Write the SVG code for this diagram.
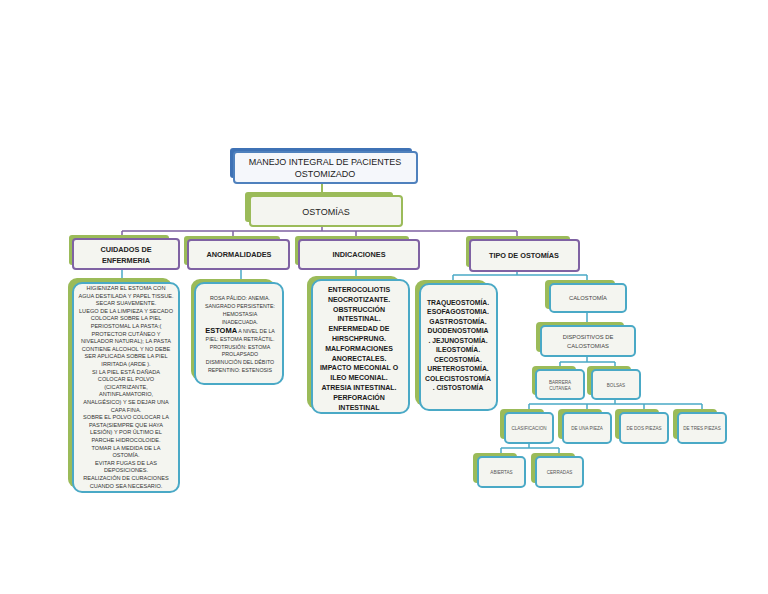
<svg xmlns="http://www.w3.org/2000/svg" width="768" height="594" viewBox="0 0 768 594">
<style>
.sg{fill:#9bbb59}
.sb{fill:#3f72b5}
.pb{fill:#f4f5f0;stroke:#7f62a3;stroke-width:2}
.tb{fill:#f4f5f0;stroke:#4aa9c6;stroke-width:2}
.bb{fill:#f5f7fb;stroke:#4f81bd;stroke-width:2}
.gb{fill:#f4f5f0;stroke:#9bbb59;stroke-width:2}
.cp{stroke:#7f62a3;stroke-width:1.5;fill:none}
.ct{stroke:#4aa9c6;stroke-width:1.5;fill:none}
.cg{stroke:#9bbb59;stroke-width:2;fill:none}
text{font-family:"Liberation Sans",Arial,sans-serif;text-anchor:middle;fill:#222}
.h1{font-size:9px}
.h2{font-size:7.3px;font-weight:bold}
.s1{font-size:5.6px;fill:#333}
.s2{font-size:5.3px;fill:#333}
.b1{font-size:7px;font-weight:bold;fill:#1a1a1a}
.b2{font-size:6.8px;font-weight:bold;fill:#1a1a1a}
.m{font-size:5.8px;fill:#444}
.sm{font-size:4.6px;fill:#555}
</style>

<g id="connectors">
<path class="cg" d="M322 183V196"/>
<path class="cp" d="M322 226V231M122 231H517M122 231V240M233 231V240M356 231V240M517 231V240"/>
<path class="ct" d="M122 269V283M241 269V283M356 269V281"/>
<path class="ct" d="M517 271V275M453 275H587M453 275V284M587 275V284"/>
<path class="ct" d="M587 312V326M587 356V362M560 362H615M560 362V370M615 362V370"/>
<path class="ct" d="M615 399V404M529 404H702M529 404V413M587 404V413M644 404V413M702 404V413"/>
<path class="ct" d="M529 443V448M501 448H559M501 448V457M559 448V457"/>
</g>

<g id="title">
<rect class="sb" x="230" y="148" width="182" height="30" rx="3"/>
<rect class="bb" x="234" y="152" width="183" height="31" rx="3"/>
<text class="h1" x="325" y="164.5">MANEJO INTEGRAL DE PACIENTES</text>
<text class="h1" x="325" y="176.5">OSTOMIZADO</text>
</g>

<g id="ostomias">
<rect class="sg" x="245" y="192" width="148" height="30" rx="3"/>
<rect class="gb" x="250" y="196" width="152" height="30" rx="3"/>
<text class="h1" x="326" y="214.5">OSTOMÍAS</text>
</g>

<g id="cuidados">
<rect class="sg" x="69" y="235" width="100" height="30" rx="3"/>
<rect class="pb" x="73" y="239" width="106" height="30" rx="3"/>
<text class="h2" x="126" y="251.5">CUIDADOS DE</text>
<text class="h2" x="126" y="262.5">ENFERMERIA</text>
</g>

<g id="anormalidades">
<rect class="sg" x="184" y="236" width="96" height="29" rx="3"/>
<rect class="pb" x="188" y="240" width="101" height="29" rx="3"/>
<text class="h2" x="239" y="257">ANORMALIDADES</text>
</g>

<g id="indicaciones">
<rect class="sg" x="295" y="236" width="114" height="29" rx="3"/>
<rect class="pb" x="299" y="240" width="120" height="29" rx="3"/>
<text class="h2" x="359" y="257">INDICACIONES</text>
</g>

<g id="tipo">
<rect class="sg" x="466" y="236" width="104" height="31" rx="3"/>
<rect class="pb" x="470" y="240" width="109" height="31" rx="3"/>
<text class="h2" x="524" y="258">TIPO DE  OSTOMÍAS</text>
</g>

<g id="cuidados-detalle">
<rect class="sg" x="68" y="278" width="104" height="210" rx="9"/>
<rect class="tb" x="73" y="283" width="106" height="209" rx="9"/>
<text class="s1" x="126" y="290">HIGIENIZAR EL ESTOMA CON</text>
<text class="s1" x="126" y="297.6">AGUA DESTILADA Y PAPEL TISSUE.</text>
<text class="s1" x="126" y="305.2">SECAR SUAVEMENTE.</text>
<text class="s1" x="126" y="312.8">LUEGO DE LA LIMPIEZA Y SECADO</text>
<text class="s1" x="126" y="320.4">COLOCAR SOBRE LA PIEL</text>
<text class="s1" x="126" y="328">PERIOSTOMAL LA PASTA:(</text>
<text class="s1" x="126" y="335.6">PROTECTOR CUTÁNEO Y</text>
<text class="s1" x="126" y="343.2">NIVELADOR NATURAL); LA PASTA</text>
<text class="s1" x="126" y="350.8">CONTIENE ALCOHOL Y NO DEBE</text>
<text class="s1" x="126" y="358.4">SER APLICADA SOBRE LA PIEL</text>
<text class="s1" x="126" y="366">IRRITADA (ARDE ).</text>
<text class="s1" x="126" y="373.6">SI LA PIEL ESTÁ DAÑADA</text>
<text class="s1" x="126" y="381.2">COLOCAR EL POLVO</text>
<text class="s1" x="126" y="388.8">(CICATRIZANTE,</text>
<text class="s1" x="126" y="396.4">ANTINFLAMATORIO,</text>
<text class="s1" x="126" y="404">ANALGÉSICO) Y SE DEJAR UNA</text>
<text class="s1" x="126" y="411.6">CAPA FINA.</text>
<text class="s1" x="126" y="419.2">SOBRE EL POLVO COLOCAR LA</text>
<text class="s1" x="126" y="426.8">PASTA(SIEMPRE QUE HAYA</text>
<text class="s1" x="126" y="434.4">LESIÓN) Y POR ÚLTIMO EL</text>
<text class="s1" x="126" y="442">PARCHE HIDROCOLOIDE.</text>
<text class="s1" x="126" y="449.6">TOMAR LA MEDIDA DE LA</text>
<text class="s1" x="126" y="457.2">OSTOMÍA.</text>
<text class="s1" x="126" y="464.8">EVITAR FUGAS DE LAS</text>
<text class="s1" x="126" y="472.4">DEPOSICIONES.</text>
<text class="s1" x="126" y="480">REALIZACIÓN DE CURACIONES</text>
<text class="s1" x="126" y="487.6">CUANDO SEA NECESARIO.</text>
</g>

<g id="anormalidades-detalle">
<rect class="sg" x="191" y="279" width="84" height="101" rx="9"/>
<rect class="tb" x="195" y="283" width="88" height="101" rx="9"/>
<text class="s2" x="240" y="299.5">ROSA PÁLIDO: ANEMIA.</text>
<text class="s2" x="240" y="307.5">SANGRADO PERSISTENTE:</text>
<text class="s2" x="240" y="315.5">HEMOSTASIA</text>
<text class="s2" x="240" y="323.5">INADECUADA.</text>
<text class="s2" x="240" y="333"><tspan style="font-size:7.5px;font-weight:bold;fill:#111">ESTOMA</tspan> A NIVEL DE LA</text>
<text class="s2" x="240" y="341">PIEL: ESTOMA RETRÁCTIL.</text>
<text class="s2" x="240" y="348.5">PROTRUSIÓN: ESTOMA</text>
<text class="s2" x="240" y="356">PROLAPSADO</text>
<text class="s2" x="240" y="364">DISMINUCIÓN DEL DÉBITO</text>
<text class="s2" x="240" y="372">REPENTINO: ESTENOSIS</text>
</g>

<g id="indicaciones-detalle">
<rect class="sg" x="307" y="276" width="93" height="133" rx="9"/>
<rect class="tb" x="312" y="280" width="97" height="133" rx="9"/>
<text class="b1" x="359" y="292">ENTEROCOLIOTIS</text>
<text class="b1" x="359" y="301.8">NEOCROTIZANTE.</text>
<text class="b1" x="359" y="311.6">OBSTRUCCIÓN</text>
<text class="b1" x="359" y="321.4">INTESTINAL.</text>
<text class="b1" x="359" y="331.2">ENFERMEDAD DE</text>
<text class="b1" x="359" y="341">HIRSCHPRUNG.</text>
<text class="b1" x="359" y="350.8">MALFORMACIONES</text>
<text class="b1" x="359" y="360.6">ANORECTALES.</text>
<text class="b1" x="359" y="370.4">IMPACTO MECONIAL O</text>
<text class="b1" x="359" y="380.2">ILEO MECONIAL.</text>
<text class="b1" x="359" y="390">ATRESIA INTESTINAL.</text>
<text class="b1" x="359" y="399.8">PERFORACIÓN</text>
<text class="b1" x="359" y="409.6">INTESTINAL</text>
</g>

<g id="tipos-lista">
<rect class="sg" x="415" y="280" width="73" height="126" rx="9"/>
<rect class="tb" x="420" y="284" width="77" height="126" rx="9"/>
<text class="b2" x="458" y="304.5">TRAQUEOSTOMÍA.</text>
<text class="b2" x="458" y="314">ESOFAGOSTOMIA.</text>
<text class="b2" x="458" y="323.5">GASTROSTOMÍA.</text>
<text class="b2" x="458" y="333">DUODENOSTOMIA</text>
<text class="b2" x="458" y="342.5">. JEJUNOSTOMÍA.</text>
<text class="b2" x="458" y="352">ILEOSTOMÍA.</text>
<text class="b2" x="458" y="361.5">CECOSTOMÍA.</text>
<text class="b2" x="458" y="371">URETEROSTOMÍA.</text>
<text class="b2" x="458" y="380.5">COLECISTOSTOMÍA</text>
<text class="b2" x="458" y="390">. CISTOSTOMÍA</text>
</g>

<g id="calostomia">
<rect class="sg" x="545" y="280" width="70" height="29" rx="4"/>
<rect class="tb" x="550" y="284" width="76" height="28" rx="4"/>
<text class="m" x="588" y="300">CALOSTOMÍA</text>
</g>

<g id="dispositivos">
<rect class="sg" x="536" y="322" width="88" height="30" rx="4"/>
<rect class="tb" x="541" y="326" width="94" height="30" rx="4"/>
<text class="m" x="588" y="339">DISPOSITIVOS DE</text>
<text class="m" x="588" y="348">CALOSTOMIAS</text>
</g>

<g id="barrera">
<rect class="sg" x="532" y="366" width="44" height="29" rx="4"/>
<rect class="tb" x="536" y="370" width="48" height="29" rx="4"/>
<text class="sm" x="560" y="383.5">BARRERA</text>
<text class="sm" x="560" y="390">CUTANEA</text>
</g>

<g id="bolsas">
<rect class="sg" x="587" y="366" width="44" height="29" rx="4"/>
<rect class="tb" x="592" y="370" width="48" height="29" rx="4"/>
<text class="sm" x="616" y="386.5">BOLSAS</text>
</g>

<g id="clasificacion">
<rect class="sg" x="500" y="409" width="44" height="30" rx="4"/>
<rect class="tb" x="505" y="413" width="48" height="30" rx="4"/>
<text class="sm" x="529" y="429.5">CLASIFICACION</text>
</g>

<g id="una-pieza">
<rect class="sg" x="558" y="409" width="44" height="30" rx="4"/>
<rect class="tb" x="563" y="413" width="48" height="30" rx="4"/>
<text class="sm" x="587" y="429.5">DE UNA PIEZA</text>
</g>

<g id="dos-piezas">
<rect class="sg" x="615" y="409" width="44" height="30" rx="4"/>
<rect class="tb" x="620" y="413" width="48" height="30" rx="4"/>
<text class="sm" x="644" y="429.5">DE DOS PIEZAS</text>
</g>

<g id="tres-piezas">
<rect class="sg" x="673" y="409" width="44" height="30" rx="4"/>
<rect class="tb" x="678" y="413" width="48" height="30" rx="4"/>
<text class="sm" x="702" y="429.5">DE TRES PIEZAS</text>
</g>

<g id="abiertas">
<rect class="sg" x="473" y="453" width="44" height="30" rx="4"/>
<rect class="tb" x="478" y="457" width="47" height="30" rx="4"/>
<text class="sm" x="501.5" y="473.5">ABIERTAS</text>
</g>

<g id="cerradas">
<rect class="sg" x="531" y="453" width="44" height="30" rx="4"/>
<rect class="tb" x="536" y="457" width="47" height="30" rx="4"/>
<text class="sm" x="559.5" y="473.5">CERRADAS</text>
</g>
</svg>
